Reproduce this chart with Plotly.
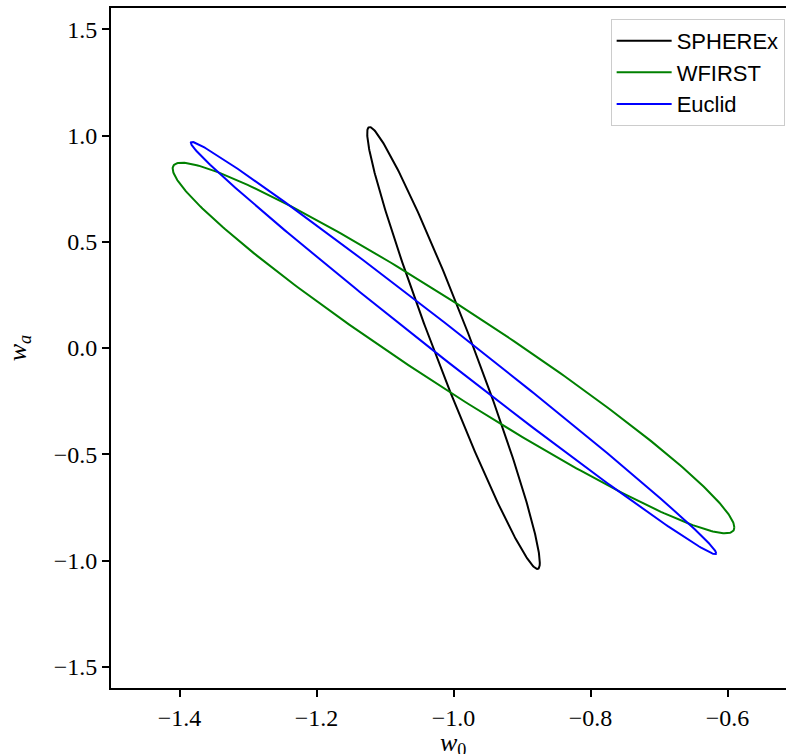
import numpy as np
import plotly.graph_objects as go

# Forecast 1-sigma contours in the (w0, wa) plane, fiducial at (-1, 0)
experiments = ["SPHEREx", "WFIRST", "Euclid"]
colors = ["black", "green", "blue"]
fiducial_w0 = -1.0
fiducial_wa = 0.0
sigma_w0 = [0.126, 0.410, 0.3835]     # marginal half-width in w0
sigma_wa = [1.040, 0.872, 0.970]      # marginal half-width in wa
corr = [-0.972, -0.968, -0.996]       # w0-wa correlation coefficient

x_ticks = [-1.4, -1.2, -1.0, -0.8, -0.6]
x_ticklabels = ["−1.4", "−1.2", "−1.0", "−0.8", "−0.6"]
y_ticks = [-1.5, -1.0, -0.5, 0.0, 0.5, 1.0, 1.5]
y_ticklabels = ["−1.5", "−1.0", "−0.5", "0.0", "0.5", "1.0", "1.5"]

theta = np.linspace(0, 2 * np.pi, 400)

fig = go.Figure()
for name, col, sx, sy, r in zip(experiments, colors, sigma_w0, sigma_wa, corr):
    x = fiducial_w0 + sx * np.cos(theta)
    y = fiducial_wa + sy * (r * np.cos(theta) + np.sqrt(1 - r * r) * np.sin(theta))
    fig.add_trace(go.Scatter(x=x, y=y, mode="lines", name=name,
                             line=dict(color=col, width=2)))

serif = "Liberation Serif"
fig.update_layout(
    width=786, height=754,
    margin=dict(l=111, r=0, t=8, b=66),
    paper_bgcolor="white", plot_bgcolor="white",
    showlegend=True,
    legend=dict(x=0.998, y=0.984, xanchor="right", yanchor="top",
                bgcolor="rgba(255,255,255,0.8)", bordercolor="#cccccc",
                borderwidth=1, font=dict(family="Liberation Sans", size=22, color="black"),
                itemwidth=55, tracegroupgap=0),
    font=dict(family=serif, color="black"),
)
# x-axis label sits centred under the full axes box, partly below the page edge
fig.add_annotation(text="<i>w</i><sub>0</sub>", xref="paper", yref="paper",
                   x=0.5074, y=0, xanchor="center", yanchor="top", yshift=-38,
                   showarrow=False, font=dict(family=serif, size=26, color="black"))
fig.update_xaxes(
    range=[-1.5, -0.5146], showgrid=False, zeroline=False, automargin=False,
    showline=True, linecolor="black", linewidth=2, mirror=True,
    ticks="outside", ticklen=7, tickwidth=1.5, tickcolor="black",
    tickvals=x_ticks, ticktext=x_ticklabels,
    tickfont=dict(family=serif, size=24, color="black"),
)
fig.update_yaxes(
    range=[-1.6, 1.6], showgrid=False, zeroline=False, automargin=False,
    showline=True, linecolor="black", linewidth=2, mirror=False,
    ticks="outside", ticklen=7, tickwidth=1.5, tickcolor="black",
    tickvals=y_ticks, ticktext=y_ticklabels,
    tickfont=dict(family=serif, size=24, color="black"),
    title=dict(text="<i>w<sub>a</sub></i>", font=dict(family=serif, size=26), standoff=20),
)

fig.write_html("out.html")
